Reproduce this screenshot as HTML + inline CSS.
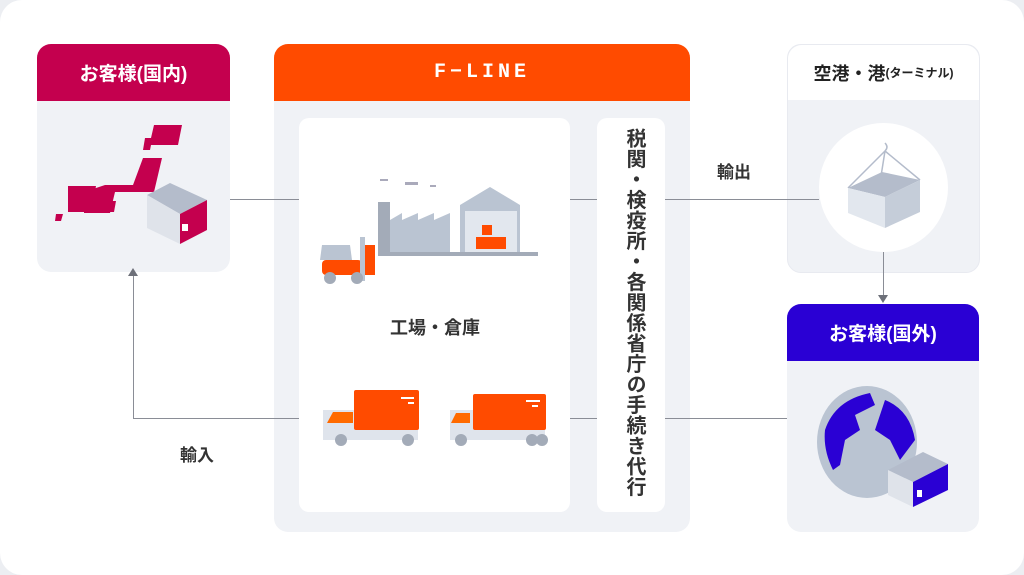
<!DOCTYPE html>
<html><head><meta charset="utf-8"><style>
body{margin:0;width:1024px;height:575px;background:#eceef2;font-family:"Liberation Sans","Noto Sans CJK JP",sans-serif;position:relative;overflow:hidden}
.card{position:absolute;left:0;top:0;width:1024px;height:575px;background:#fff;border-radius:22px}
.a{position:absolute}
.hd{position:absolute;left:0;top:0;right:0;height:57px;color:#fff;font-weight:bold;font-size:19px;display:flex;align-items:center;justify-content:center;border-radius:14px 14px 0 0}
.ln{position:absolute;background:#8a8d96}
</style></head><body><div class="card"></div>
<!-- left box -->
<div class="a" style="left:37px;top:44px;width:193px;height:228px;background:#f0f2f6;border-radius:14px">
<div class="hd" style="background:#c4004e">お客様(国内)</div></div>
<svg class="a" style="left:50px;top:120px" width="170" height="130">
<polygon points="104,5 132,5 128,25 101,25 100,30 93,30 95,18 101,18" fill="#c4004e"/>
<polygon points="93,38 112,38 104,72 65,72 60,93 34,93 34,72 55,65 83,65" fill="#c4004e"/>
<polygon points="18,66 46,66 41,92 18,92" fill="#c4004e"/>
<polygon points="44,81 66,81 64,92 42,92" fill="#c4004e"/>
<polygon points="6,94 13,94 11,101 5,101" fill="#c4004e"/>
<polygon points="97,75 120,63 157,80 130,94" fill="#b4bccb"/>
<polygon points="97,75 130,94 130,124 97,108" fill="#dfe3ea"/>
<polygon points="130,94 157,80 157,110 130,124" fill="#c4004e"/>
<rect x="132" y="104" width="6" height="7" fill="#fff"/>
</svg>
<!-- F-LINE -->
<div class="a" style="left:274px;top:44px;width:416px;height:488px;background:#f0f2f6;border-radius:14px">
<div class="hd" style="background:#ff4b00;letter-spacing:4px;font-family:'Liberation Mono',monospace;font-size:20px">F−LINE</div></div>
<div class="a" style="left:299px;top:118px;width:271px;height:394px;background:#fff;border-radius:10px"></div>
<div class="a" style="left:597px;top:118px;width:68px;height:394px;background:#fff;border-radius:10px"></div>
<div class="a" style="left:615px;top:128px;width:32px;font-size:20px;font-weight:bold;color:#333;line-height:26px;text-align:center;writing-mode:vertical-rl;letter-spacing:0.5px">税関・検疫所・各関係省庁の手続き代行</div>
<div class="a" style="top:314px;width:200px;text-align:center;font-size:18px;font-weight:bold;color:#333;left:335px">工場・倉庫</div>
<svg class="a" style="left:310px;top:175px" width="240" height="110">
<rect x="70" y="4" width="8" height="2" fill="#aab"/><rect x="95" y="7" width="13" height="3" fill="#aab"/><rect x="120" y="10" width="6" height="2" fill="#aab"/>
<rect x="68" y="27" width="12" height="52" fill="#a3abb8"/>
<polygon points="80,79 80,45 92,38 92,45 108,38 108,45 124,38 124,45 140,38 140,79" fill="#bac4d2"/>
<polygon points="150,79 150,30 180,12 210,30 210,79" fill="#bac4d2"/>
<rect x="155" y="36" width="52" height="43" fill="#e2e7ee"/>
<rect x="172" y="50" width="10" height="10" fill="#ff4b00"/><rect x="166" y="62" width="30" height="12" fill="#ff4b00"/>
<rect x="68" y="77" width="160" height="4" fill="#a3abb8"/>
<polygon points="12,70 40,70 42,85 10,85" fill="#bac4d2"/>
<rect x="12" y="85" width="40" height="15" rx="4" fill="#ff4b00"/>
<rect x="50" y="62" width="5" height="44" fill="#bac4d2"/><rect x="55" y="70" width="10" height="30" fill="#ff4b00"/>
<circle cx="20" cy="103" r="6" fill="#a3abb8"/><circle cx="47" cy="103" r="6" fill="#a3abb8"/>
</svg>
<svg class="a" style="left:320px;top:385px" width="240" height="65">
<rect x="3" y="25" width="95" height="30" fill="#dfe4ec"/><polygon points="13,27 33,27 33,38 7,38" fill="#ff6a00"/>
<rect x="34" y="5" width="65" height="40" rx="2" fill="#ff4b00"/><rect x="81" y="12" width="13" height="2" fill="#fff"/><rect x="88" y="17" width="6" height="2" fill="#fff"/>
<circle cx="21" cy="55" r="6" fill="#a3abb8"/><circle cx="88" cy="55" r="6" fill="#a3abb8"/>
<rect x="130" y="25" width="95" height="30" fill="#dfe4ec"/><polygon points="136,28 150,28 150,38 131,38" fill="#ff6a00"/>
<rect x="153" y="9" width="73" height="36" rx="2" fill="#ff4b00"/><rect x="206" y="15" width="14" height="2" fill="#fff"/><rect x="212" y="20" width="6" height="2" fill="#fff"/>
<circle cx="141" cy="55" r="6" fill="#a3abb8"/><circle cx="212" cy="55" r="6" fill="#a3abb8"/><circle cx="222" cy="55" r="6" fill="#a3abb8"/>
</svg>
<!-- right top -->
<div class="a" style="left:787px;top:44px;width:191px;height:227px;background:#f0f2f6;border-radius:14px;border:1px solid #e8eaf0">
<div class="hd" style="background:#fff;color:#222;height:55px;font-size:18px">空港・港<span style="font-size:12px">(ターミナル)</span></div></div>
<div class="a" style="left:819px;top:123px;width:129px;height:129px;border-radius:50%;background:#fff"></div>
<svg class="a" style="left:840px;top:140px" width="90" height="100">
<path d="M45 3 q4 4 0 8 M45 11 L8 48 M45 11 L80 40 M45 11 L38 55" stroke="#b4bccb" fill="none" stroke-width="1.5"/>
<polygon points="8,48 42,32 80,40 45,57" fill="#b4bccb"/>
<polygon points="8,48 45,57 45,88 8,73" fill="#e2e7ee"/>
<polygon points="45,57 80,40 80,72 45,88" fill="#c5cdd9"/>
</svg>
<!-- right bottom -->
<div class="a" style="left:787px;top:304px;width:192px;height:228px;background:#f0f2f6;border-radius:14px">
<div class="hd" style="background:#2a00d4">お客様(国外)</div></div>
<svg class="a" style="left:815px;top:385px" width="140" height="125">
<ellipse cx="52" cy="57" rx="50" ry="56" fill="#bac4d2"/>
<path d="M10,45 Q20,15 55,8 L60,20 L40,30 L45,45 L30,55 L25,80 L18,85 Q8,65 10,45Z M70,15 Q95,25 100,55 L85,75 L75,55 L60,45 L65,30Z" fill="#2a00d4"/>
<polygon points="73,85 108,67 133,79 98,97" fill="#b4bccb"/>
<polygon points="73,85 98,97 98,122 73,110" fill="#dfe3ea"/>
<polygon points="98,97 133,79 133,105 98,122" fill="#2a00d4"/>
<rect x="102" y="105" width="5" height="7" fill="#fff"/>
</svg>
<!-- lines -->
<div class="ln" style="left:230px;top:199px;width:69px;height:1px"></div>
<div class="ln" style="left:570px;top:199px;width:27px;height:1px"></div>
<div class="ln" style="left:665px;top:199px;width:154px;height:1px"></div>
<div class="ln" style="left:883px;top:252px;width:1px;height:45px"></div>
<div class="a" style="left:878px;top:295px;width:0;height:0;border-left:5px solid transparent;border-right:5px solid transparent;border-top:8px solid #6d7079"></div>
<div class="ln" style="left:133px;top:276px;width:1px;height:142px"></div>
<div class="a" style="left:128px;top:268px;width:0;height:0;border-left:5px solid transparent;border-right:5px solid transparent;border-bottom:8px solid #6d7079"></div>
<div class="ln" style="left:133px;top:418px;width:166px;height:1px"></div>
<div class="ln" style="left:570px;top:418px;width:27px;height:1px"></div>
<div class="ln" style="left:665px;top:418px;width:122px;height:1px"></div>
<div class="a" style="left:717px;top:158px;font-size:17px;font-weight:bold;color:#333">輸出</div>
<div class="a" style="left:180px;top:441px;font-size:17px;font-weight:bold;color:#333">輸入</div>
</body></html>
